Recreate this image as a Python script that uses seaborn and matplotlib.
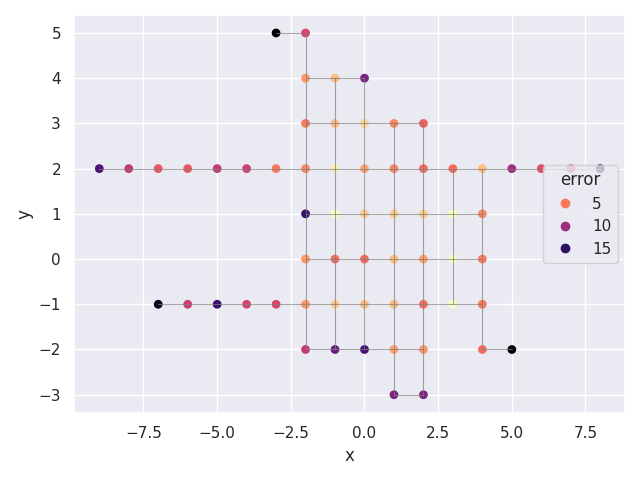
import numpy as np
import pandas as pd
import seaborn as sns
import matplotlib as mpl
from matplotlib import pyplot as plt
from matplotlib.lines import Line2D

row_y = [5, 4, 3, 2, 1, 0, -1, -2, -3]
row_x = [
    [-3, -2],
    [-2, -1, 0],
    [-2, -1, 0, 1, 2],
    [-9, -8, -7, -6, -5, -4, -3, -2, -1, 0, 1, 2, 3, 4, 5, 6, 7, 8],
    [-2, -1, 0, 1, 2, 3, 4],
    [-2, -1, 0, 1, 2, 3, 4],
    [-7, -6, -5, -4, -3, -2, -1, 0, 1, 2, 3, 4],
    [-2, -1, 0, 1, 2, 4, 5],
    [1, 2],
]
row_error = [
    [18, 7.5],
    [4, 2.5, 11.5],
    [5, 2.5, 1.5, 4.5, 6],
    [13.5, 8.5, 6.5, 6.5, 8.5, 8, 5, 4.5, 0.5, 3.5, 4.5, 5.5, 5.5, 2.5, 10, 7, 7, 16.5],
    [14.5, 0, 2, 2, 2, 0, 4.5],
    [4, 5.5, 5.5, 2.5, 3.5, 0, 5],
    [17, 8, 14.5, 7.5, 7.5, 4, 2, 2.5, 2.5, 5.5, 0, 5],
    [8.5, 12.5, 14, 3.5, 4, 5.5, 18],
    [11.5, 11.5],
]
legend_levels = [5, 10, 15]

rows = []
for y, xs, errs in zip(row_y, row_x, row_error):
    for x, e in zip(xs, errs):
        rows.append({"x": x, "y": y, "error": e})
df = pd.DataFrame(rows)

sns.set_theme()
fig, ax = plt.subplots(figsize=(6.4, 4.8), dpi=100)

sns.scatterplot(data=df, x="x", y="y", hue="error", palette="magma_r",
                s=40, linewidth=0, legend=False, ax=ax)

# connect neighbouring grid nodes with thin grey lines
nodes = set(zip(df["x"], df["y"]))
for (x, y) in nodes:
    for dx, dy in [(1, 0), (0, 1)]:
        if (x + dx, y + dy) in nodes:
            ax.plot([x, x + dx], [y, y + dy], color="gray", lw=0.8, alpha=0.7)

cmap = mpl.colormaps["magma_r"]
norm = mpl.colors.Normalize(df["error"].min(), df["error"].max())
handles = [Line2D([], [], marker="o", ls="", markersize=7, markeredgewidth=0,
                  color=cmap(norm(v)), label=str(v)) for v in legend_levels]
ax.legend(handles=handles, title="error", loc="center right")

fig.subplots_adjust(left=0.116, right=0.977, top=0.969, bottom=0.140)
plt.savefig("out.png", dpi=100)
